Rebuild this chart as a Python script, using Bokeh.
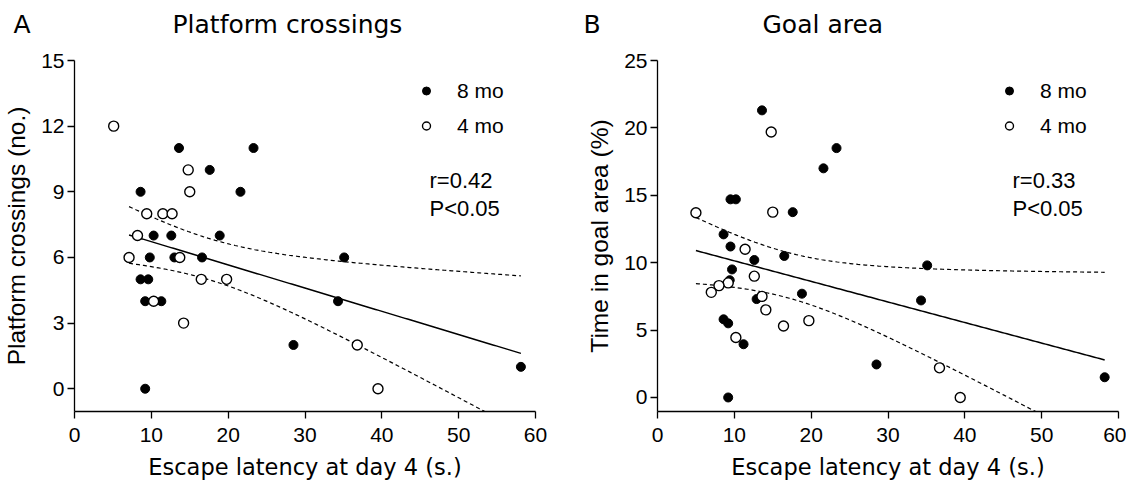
import numpy as np
from bokeh.plotting import figure
from bokeh.layouts import row, column
from bokeh.models import Legend, LegendItem, Label, Range1d, FixedTicker
from bokeh.embed import file_html
from bokeh.resources import INLINE

# ---------------- data ----------------
left_8mo_x = [13.6, 23.3, 17.6, 8.6, 21.6, 18.9, 10.3, 12.6, 9.8, 13.0, 16.6, 35.1, 8.6, 9.6, 9.2, 11.3, 34.3, 28.5, 9.2, 58.1]
left_8mo_y = [11, 11, 10, 9, 9, 7, 7, 7, 6, 6, 6, 6, 5, 5, 4, 4, 4, 2, 0, 1]
left_4mo_x = [5.1, 14.8, 15.0, 9.4, 11.5, 12.7, 8.2, 7.1, 13.7, 16.5, 19.8, 10.3, 14.2, 36.8, 39.5]
left_4mo_y = [12, 10, 9, 8, 8, 8, 7, 6, 6, 5, 5, 4, 3, 2, 0]
# the fitted line of panel A starts at x~7, i.e. the point at x=5.1 is not in the fit
left_fit_exclude_x = [5.1]

right_8mo_x = [13.6, 23.3, 21.6, 9.5, 10.2, 17.6, 8.6, 9.5, 12.6, 16.5, 35.1, 9.7, 9.4, 18.8, 12.9, 34.3, 8.6, 9.2, 11.2, 28.5, 9.2, 58.2]
right_8mo_y = [21.3, 18.5, 17.0, 14.7, 14.7, 13.75, 12.1, 11.2, 10.2, 10.5, 9.8, 9.5, 8.7, 7.7, 7.3, 7.2, 5.8, 5.5, 3.95, 2.45, 0, 1.5]
right_4mo_x = [14.8, 5.0, 15.0, 11.4, 12.6, 9.2, 8.0, 7.0, 13.6, 14.1, 19.7, 16.4, 10.2, 36.7, 39.4]
right_4mo_y = [19.7, 13.7, 13.75, 11.0, 9.0, 8.5, 8.3, 7.8, 7.5, 6.5, 5.7, 5.3, 4.45, 2.2, 0]
right_fit_exclude_x = []

x_ticks = [0, 10, 20, 30, 40, 50, 60]
left_y_ticks = [0, 3, 6, 9, 12, 15]
right_y_ticks = [0, 5, 10, 15, 20, 25]

group_labels = ["8 mo", "4 mo"]
panel_letters = ["A", "B"]
panel_titles = ["Platform crossings", "Goal area"]
left_stats = "r=0.42\nP<0.05"
right_stats = "r=0.33\nP<0.05"

FONT = "Liberation Sans"      # tick labels, legend, statistics, y titles
WIDE = "DejaVu Sans"          # panel titles and x titles (wide lettering in the original)
HEADER_H = 39
TOTAL_W = 1121


def fit_band(xs, ys, exclude, t=2.03, n_pts=160):
    pts = [(x, y) for x, y in zip(xs, ys) if x not in exclude]
    xs = np.array([q[0] for q in pts], float)
    ys = np.array([q[1] for q in pts], float)
    n = len(xs)
    b, a = np.polyfit(xs, ys, 1)
    resid = ys - (a + b * xs)
    s = np.sqrt(np.sum(resid ** 2) / (n - 2))
    xm = xs.mean()
    sxx = np.sum((xs - xm) ** 2)
    gx = np.linspace(xs.min(), xs.max(), n_pts)
    gy = a + b * gx
    hw = t * s * np.sqrt(1.0 / n + (gx - xm) ** 2 / sxx)
    return gx, gy, gy - hw, gy + hw


def make_panel(ylabel, x8, y8, x4, y4, exclude, yticks, ytop, ybottom,
               stats, border_left, border_right):
    p = figure(frame_width=461, frame_height=351,
               x_range=Range1d(0, 60), y_range=Range1d(ybottom, ytop),
               output_backend="svg", toolbar_location=None,
               min_border_left=border_left, min_border_right=border_right,
               min_border_top=21, min_border_bottom=50)
    p.outline_line_color = None
    p.grid.visible = False
    p.background_fill_color = "white"

    for ax in (p.xaxis[0], p.yaxis[0]):
        ax.axis_line_width = 1.3
        ax.major_tick_line_width = 1.3
        ax.major_tick_out = 7
        ax.major_tick_in = 0
        ax.minor_tick_out = 0
        ax.minor_tick_in = 0
        ax.major_label_text_font = FONT
        ax.major_label_text_font_size = "21px"
        ax.major_label_text_color = "black"
        ax.axis_label_text_font_style = "normal"
        ax.axis_label_text_color = "black"
        ax.axis_line_color = "black"
        ax.major_tick_line_color = "black"

    p.xaxis.ticker = FixedTicker(ticks=x_ticks)
    p.yaxis.ticker = FixedTicker(ticks=yticks)
    p.xaxis.axis_label = "Escape latency at day 4 (s.)"
    p.yaxis.axis_label = ylabel
    p.xaxis.axis_label_text_font = WIDE
    p.yaxis.axis_label_text_font = FONT
    p.xaxis.axis_label_text_font_size = "22.5px"
    p.yaxis.axis_label_text_font_size = "24.5px"
    p.xaxis.major_label_standoff = 9
    p.yaxis.major_label_standoff = 3
    p.xaxis.axis_label_standoff = 9
    p.yaxis.axis_label_standoff = 8

    gx, gy, lo, hi = fit_band(list(x8) + list(x4), list(y8) + list(y4), exclude)
    p.line(gx, gy, line_color="black", line_width=1.5)
    p.line(gx, lo, line_color="black", line_width=1.2, line_dash="4 3")
    p.line(gx, hi, line_color="black", line_width=1.2, line_dash="4 3")

    r8 = p.scatter(x8, y8, marker="circle", size=9, fill_color="black",
                   line_color="black", line_width=1)
    r4 = p.scatter(x4, y4, marker="circle", size=10, fill_color="white",
                   line_color="black", line_width=1.4)

    legend = Legend(items=[LegendItem(label=group_labels[0], renderers=[r8]),
                           LegendItem(label=group_labels[1], renderers=[r4])],
                    location=(342, 273))
    legend.background_fill_alpha = 0
    legend.border_line_color = None
    legend.padding = 0
    legend.margin = 0
    legend.spacing = 10
    legend.glyph_width = 20
    legend.glyph_height = 25
    legend.label_height = 25
    legend.label_standoff = 21
    legend.label_text_font = FONT
    legend.label_text_font_size = "21px"
    legend.label_text_color = "black"
    p.add_layout(legend)

    stats_label = Label(x=355, y=244, x_units="screen", y_units="screen", text=stats,
                        text_font=FONT, text_font_size="22px", text_color="black",
                        text_baseline="top", text_align="left", text_line_height=1.14)
    p.add_layout(stats_label)
    return p


# header strip holding the panel letters and the panel titles
header = figure(width=TOTAL_W, height=HEADER_H, x_range=Range1d(0, TOTAL_W),
                y_range=Range1d(0, HEADER_H), output_backend="svg",
                toolbar_location=None, min_border=0,
                x_axis_location=None, y_axis_location=None)
header.grid.visible = False
header.outline_line_color = None
header_x_letters = [13, 583]
header_x_titles = [172, 762]
header_baseline = HEADER_H - 24.3
for lx, tx, letter, title in zip(header_x_letters, header_x_titles, panel_letters, panel_titles):
    header.add_layout(Label(x=lx, y=header_baseline, text=letter, text_font=WIDE,
                            text_font_size="25px", text_color="black",
                            text_baseline="alphabetic", text_align="left"))
    header.add_layout(Label(x=tx, y=header_baseline, text=title, text_font=WIDE,
                            text_font_size="25px", text_color="black",
                            text_baseline="alphabetic", text_align="left"))

p1 = make_panel("Platform crossings (no.)",
                left_8mo_x, left_8mo_y, left_4mo_x, left_4mo_y, left_fit_exclude_x,
                left_y_ticks, 15, -1.04, left_stats, 71, 22)
p2 = make_panel("Time in goal area (%)",
                right_8mo_x, right_8mo_y, right_4mo_x, right_4mo_y, right_fit_exclude_x,
                right_y_ticks, 25, -1.04, right_stats, 100, 8)

layout = column(header, row(p1, p2, spacing=0), spacing=0)
open("out.html", "w").write(file_html(layout, INLINE))
